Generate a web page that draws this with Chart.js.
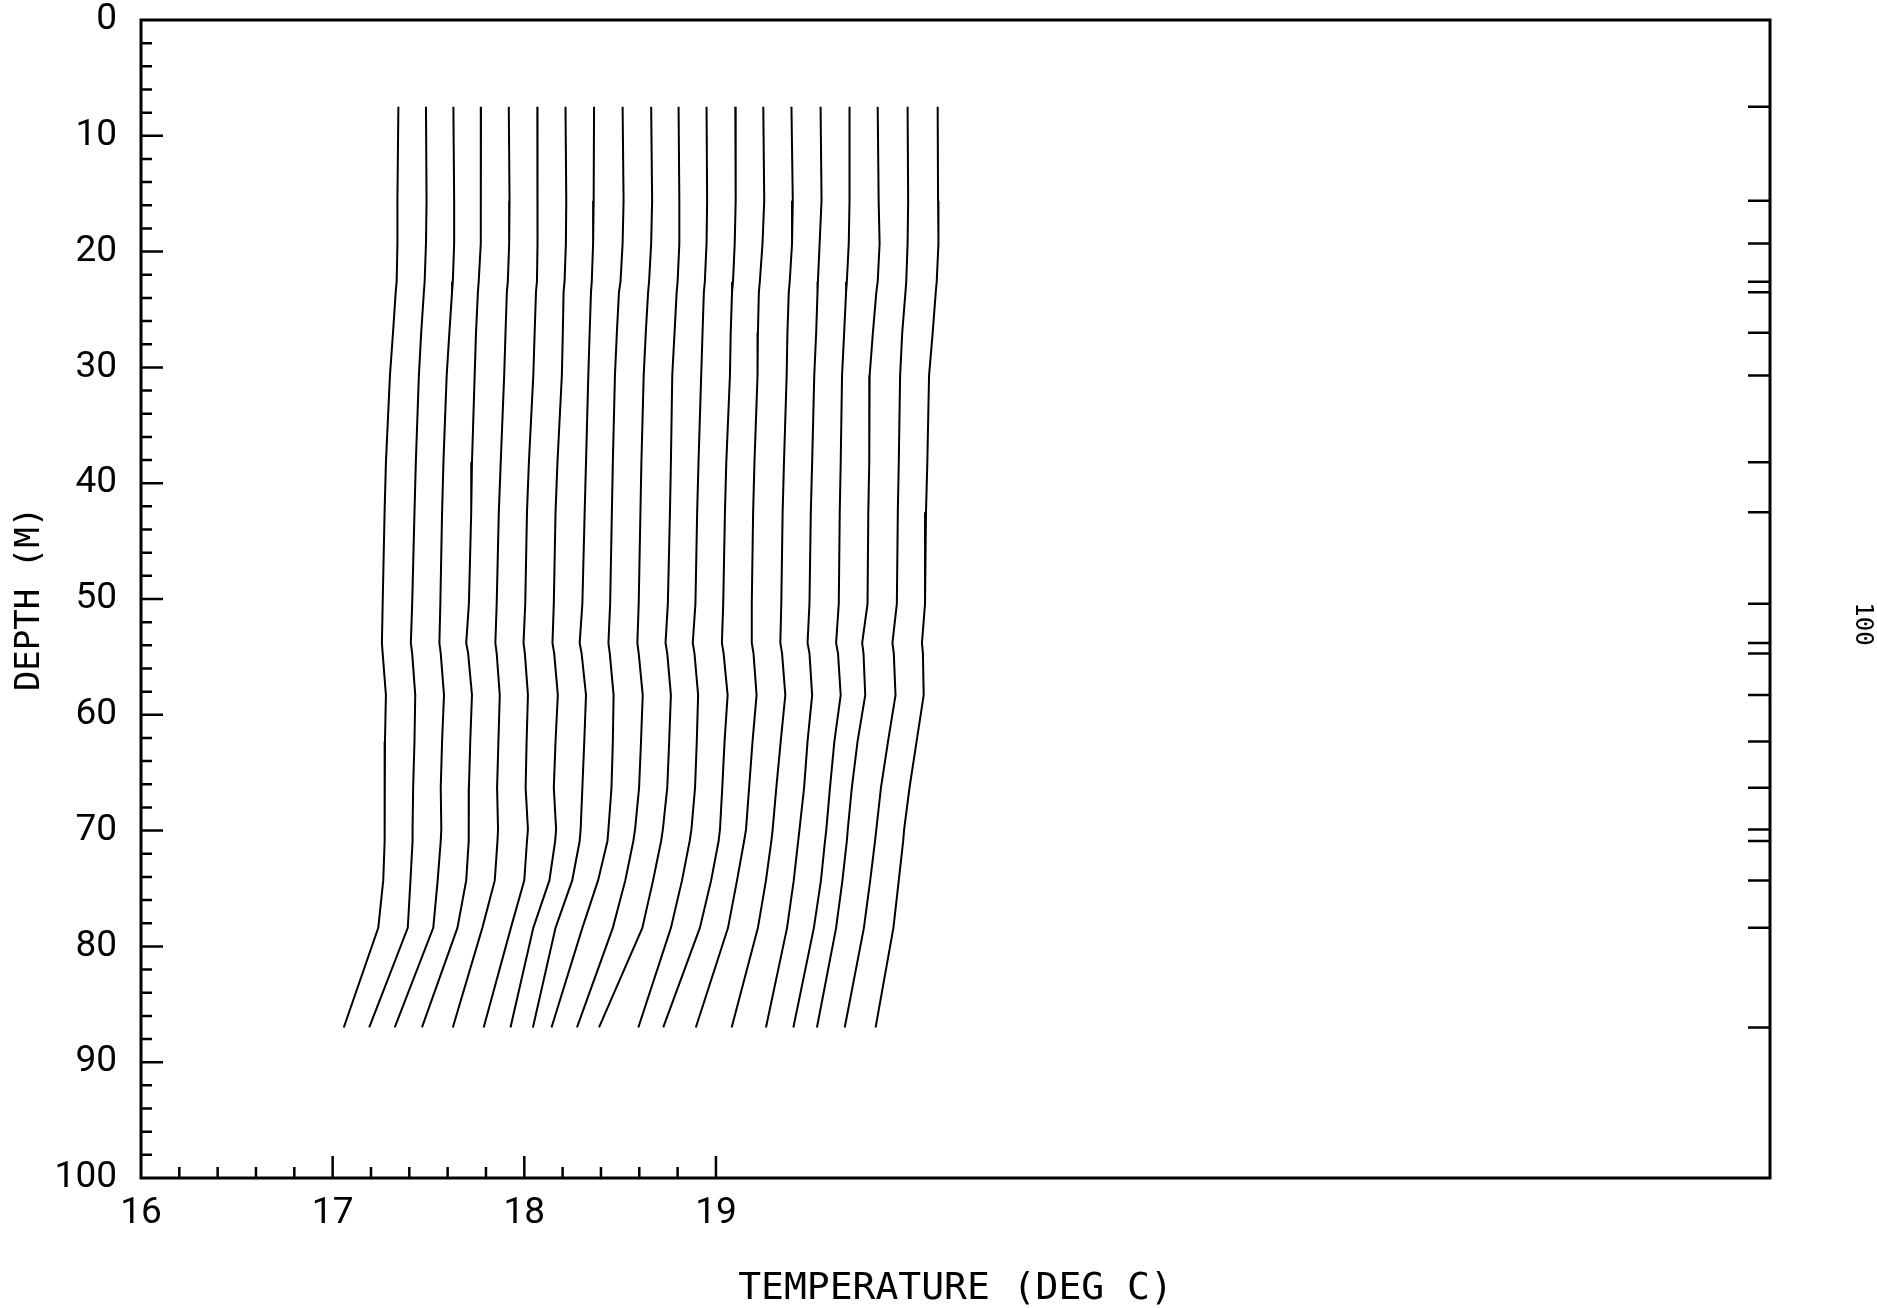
<!DOCTYPE html>
<html>
<head>
<meta charset="utf-8">
<script src="https://cdn.jsdelivr.net/npm/chart.js@4"></script>
<style>
html, body { margin: 0; padding: 0; background: #ffffff; }
canvas { display: block; }
</style>
</head>
<body>
<canvas id="chart" width="1877" height="1308"></canvas>
<script>
// Sampling depths (m) — also marked by the ticks on the right-hand axis
const depths = [7.5, 15.6, 19.3, 22.6, 23.5, 27.0, 30.7, 38.2, 42.5, 50.4, 53.8, 54.7, 58.3, 62.3, 66.3, 69.9, 70.9, 74.3, 78.4, 87.0];

// Temperature (deg C) for each profile, one value per depth above
const profile01 = [17.343, 17.338, 17.338, 17.334, 17.329, 17.315, 17.299, 17.278, 17.271, 17.261, 17.257, 17.261, 17.278, 17.273, 17.268, 17.273, 17.273, 17.264, 17.238, 17.058];
const profile02 = [17.487, 17.490, 17.487, 17.480, 17.476, 17.462, 17.450, 17.434, 17.427, 17.415, 17.408, 17.415, 17.431, 17.427, 17.420, 17.417, 17.417, 17.406, 17.392, 17.191];
const profile03 = [17.630, 17.634, 17.634, 17.627, 17.623, 17.609, 17.595, 17.578, 17.571, 17.562, 17.557, 17.564, 17.581, 17.571, 17.564, 17.567, 17.564, 17.548, 17.525, 17.324];
const profile04 = [17.774, 17.774, 17.772, 17.762, 17.758, 17.748, 17.741, 17.727, 17.723, 17.711, 17.697, 17.707, 17.727, 17.718, 17.711, 17.711, 17.709, 17.697, 17.651, 17.466];
const profile05 = [17.919, 17.923, 17.921, 17.914, 17.909, 17.902, 17.895, 17.877, 17.867, 17.856, 17.849, 17.856, 17.872, 17.865, 17.858, 17.863, 17.860, 17.846, 17.781, 17.627];
const profile06 = [18.068, 18.068, 18.070, 18.066, 18.061, 18.054, 18.047, 18.024, 18.014, 18.005, 17.996, 18.003, 18.019, 18.012, 18.007, 18.019, 18.014, 18.000, 17.930, 17.788];
const profile07 = [18.215, 18.219, 18.217, 18.210, 18.205, 18.201, 18.196, 18.173, 18.163, 18.154, 18.147, 18.156, 18.175, 18.163, 18.154, 18.166, 18.161, 18.131, 18.047, 17.928];
const profile08 = [18.364, 18.362, 18.359, 18.352, 18.348, 18.341, 18.334, 18.322, 18.315, 18.303, 18.289, 18.299, 18.322, 18.313, 18.303, 18.294, 18.289, 18.250, 18.163, 18.045];
const profile09 = [18.513, 18.518, 18.513, 18.502, 18.494, 18.483, 18.473, 18.462, 18.457, 18.448, 18.439, 18.446, 18.466, 18.462, 18.455, 18.439, 18.434, 18.385, 18.303, 18.142];
const profile10 = [18.662, 18.667, 18.662, 18.651, 18.646, 18.634, 18.623, 18.611, 18.606, 18.597, 18.590, 18.597, 18.618, 18.609, 18.599, 18.578, 18.569, 18.527, 18.462, 18.275];
const profile11 = [18.805, 18.809, 18.809, 18.800, 18.795, 18.784, 18.772, 18.765, 18.760, 18.749, 18.737, 18.746, 18.765, 18.756, 18.746, 18.723, 18.714, 18.672, 18.616, 18.390];
const profile12 = [18.951, 18.954, 18.951, 18.942, 18.937, 18.930, 18.923, 18.909, 18.902, 18.893, 18.879, 18.888, 18.907, 18.900, 18.891, 18.872, 18.863, 18.823, 18.765, 18.595];
const profile13 = [19.101, 19.103, 19.098, 19.089, 19.084, 19.077, 19.073, 19.054, 19.047, 19.038, 19.031, 19.040, 19.061, 19.045, 19.033, 19.021, 19.014, 18.975, 18.916, 18.725];
const profile14 = [19.247, 19.252, 19.243, 19.229, 19.224, 19.219, 19.217, 19.201, 19.194, 19.187, 19.187, 19.196, 19.212, 19.191, 19.173, 19.157, 19.147, 19.110, 19.063, 18.895];
const profile15 = [19.394, 19.401, 19.397, 19.385, 19.380, 19.373, 19.369, 19.355, 19.348, 19.341, 19.336, 19.345, 19.362, 19.338, 19.315, 19.296, 19.289, 19.261, 19.219, 19.082];
const profile16 = [19.546, 19.551, 19.541, 19.532, 19.530, 19.523, 19.513, 19.502, 19.495, 19.488, 19.478, 19.488, 19.502, 19.478, 19.460, 19.436, 19.429, 19.406, 19.371, 19.261];
const profile17 = [19.697, 19.697, 19.693, 19.683, 19.679, 19.669, 19.658, 19.651, 19.646, 19.641, 19.627, 19.637, 19.651, 19.618, 19.595, 19.576, 19.569, 19.548, 19.511, 19.404];
const profile18 = [19.844, 19.849, 19.854, 19.844, 19.837, 19.819, 19.802, 19.800, 19.795, 19.791, 19.763, 19.770, 19.779, 19.739, 19.709, 19.688, 19.683, 19.660, 19.627, 19.527];
const profile19 = [20.000, 20.003, 20.000, 19.993, 19.989, 19.972, 19.961, 19.954, 19.949, 19.944, 19.921, 19.928, 19.937, 19.898, 19.861, 19.837, 19.830, 19.805, 19.772, 19.672];
const profile20 = [20.157, 20.159, 20.161, 20.152, 20.147, 20.131, 20.112, 20.103, 20.096, 20.091, 20.075, 20.080, 20.084, 20.047, 20.010, 19.982, 19.977, 19.954, 19.926, 19.833];

const profiles = [profile01, profile02, profile03, profile04, profile05, profile06, profile07, profile08, profile09, profile10,
                  profile11, profile12, profile13, profile14, profile15, profile16, profile17, profile18, profile19, profile20];

// Axis tick labels
const xTickLabels = [16, 17, 18, 19];
const yTickLabels = [0, 10, 20, 30, 40, 50, 60, 70, 80, 90, 100];
const xTitle = 'TEMPERATURE (DEG C)';
const yTitle = 'DEPTH (M)';
const pageNumber = '100';

// Axis ranges
const xMin = 16, xMax = 24.5;
const yMin = 0, yMax = 100;

const tickFont = "Roboto, 'DejaVu Sans', sans-serif";
const titleFont = "'DejaVu Sans Mono', monospace";

const datasets = profiles.map((p, i) => ({
  label: 'Profile ' + (i + 1),
  data: p.map((t, j) => ({ x: t, y: depths[j] })),
  showLine: true,
  borderColor: '#000000',
  backgroundColor: '#000000',
  borderWidth: 2,
  pointRadius: 0,
  pointHoverRadius: 0,
  fill: false,
  tension: 0
}));

const framePlugin = {
  id: 'plotterFrame',
  afterDatasetsDraw(chart) {
    const { ctx, chartArea: a, scales } = chart;
    const x = scales.x, y = scales.y;
    ctx.save();
    ctx.strokeStyle = '#000000';
    ctx.lineCap = 'butt';
    // frame
    ctx.lineWidth = 3;
    ctx.strokeRect(a.left, a.top, a.right - a.left, a.bottom - a.top);
    ctx.lineWidth = 2.5;
    ctx.beginPath();
    // left axis ticks every 2 m, longer every 10 m
    for (let k = 1; k < 50; k++) {
      const d = k * 2;
      const py = y.getPixelForValue(d);
      const len = (k % 5 === 0) ? 22 : 11;
      ctx.moveTo(a.left, py);
      ctx.lineTo(a.left + len, py);
    }
    // bottom axis ticks every 0.2 deg from 16 to 19, longer every degree
    for (let k = 1; k <= 15; k++) {
      const v = xMin + k * 0.2;
      const px = x.getPixelForValue(v);
      const len = (k % 5 === 0) ? 22 : 11;
      ctx.moveTo(px, a.bottom);
      ctx.lineTo(px, a.bottom - len);
    }
    // right axis ticks at the sampling depths
    for (const d of depths) {
      const py = y.getPixelForValue(d);
      ctx.moveTo(a.right, py);
      ctx.lineTo(a.right - 22, py);
    }
    ctx.stroke();
    // page number at right margin
    ctx.translate(1862, 624);
    ctx.rotate(Math.PI / 2);
    ctx.fillStyle = '#000000';
    ctx.font = "24px 'DejaVu Sans Mono', monospace";
    ctx.textAlign = 'center';
    ctx.textBaseline = 'middle';
    ctx.fillText(pageNumber, 0, 0);
    ctx.restore();
  }
};

new Chart(document.getElementById('chart').getContext('2d'), {
  type: 'scatter',
  data: { datasets },
  options: {
    responsive: false,
    animation: false,
    devicePixelRatio: 1,
    layout: { padding: { left: 0, top: 20, right: 107, bottom: 0 } },
    plugins: { legend: { display: false }, tooltip: { enabled: false } },
    scales: {
      x: {
        type: 'linear',
        position: 'bottom',
        min: xMin,
        max: xMax,
        afterBuildTicks: s => { s.ticks = xTickLabels.map(v => ({ value: v })); },
        afterFit: s => { s.height = 130; s.paddingLeft = 0; s.paddingRight = 0; },
        grid: { display: false, drawTicks: false },
        border: { display: false },
        ticks: {
          color: '#000000',
          font: { family: tickFont, size: 37 },
          padding: 14,
          maxRotation: 0,
          autoSkip: false,
          callback: v => String(v)
        },
        title: {
          display: true,
          text: xTitle,
          color: '#000000',
          font: { family: titleFont, size: 38, lineHeight: 1 },
          padding: { top: 0, bottom: 0 }
        }
      },
      y: {
        type: 'linear',
        position: 'left',
        reverse: true,
        min: yMin,
        max: yMax,
        afterBuildTicks: s => { s.ticks = yTickLabels.map(v => ({ value: v })); },
        afterFit: s => { s.width = 141; s.paddingTop = 0; s.paddingBottom = 0; },
        grid: { display: false, drawTicks: false },
        border: { display: false },
        ticks: {
          color: '#000000',
          font: { family: tickFont, size: 37 },
          padding: 24,
          autoSkip: false,
          callback: v => String(v)
        },
        title: {
          display: true,
          text: yTitle,
          color: '#000000',
          font: { family: titleFont, size: 34 },
          padding: { top: 10, bottom: 0 }
        }
      }
    }
  },
  plugins: [framePlugin]
});
</script>
</body>
</html>
